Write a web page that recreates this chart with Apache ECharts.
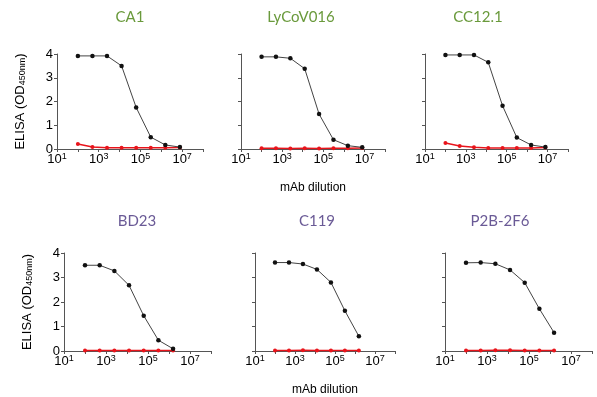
<!DOCTYPE html>
<html><head><meta charset="utf-8">
<script src="https://cdn.jsdelivr.net/npm/echarts@6/dist/echarts.min.js"></script>
<style>html,body{margin:0;padding:0;background:#fff}#c{width:597px;height:397px}</style>
</head><body><div id="c"></div>
<script>
// ---- data ----
var dilTop = [100, 500, 2500, 12500, 62500, 312500, 1562500, 7812500];
var dilBot = [100, 500, 2500, 12500, 62500, 312500, 1562500];
var titles = ['CA1', 'LyCoV016', 'CC12.1', 'BD23', 'C119', 'P2B-2F6'];
var blackCA1 = [3.92, 3.92, 3.92, 3.5, 1.75, 0.5, 0.17, 0.08];
var redCA1 = [0.21, 0.08, 0.05, 0.05, 0.05, 0.05, 0.05, 0.06];
var blackLyCoV016 = [3.88, 3.88, 3.82, 3.38, 1.47, 0.39, 0.14, 0.07];
var redLyCoV016 = [0.03, 0.03, 0.02, 0.03, 0.02, 0.03, 0.03, 0.04];
var blackCC121 = [3.96, 3.96, 3.96, 3.65, 1.82, 0.48, 0.17, 0.08];
var redCC121 = [0.25, 0.13, 0.07, 0.04, 0.04, 0.04, 0.04, 0.06];
var blackBD23 = [3.5, 3.5, 3.27, 2.68, 1.44, 0.44, 0.09];
var redBD23 = [0.02, 0.02, 0.02, 0.02, 0.02, 0.02, 0.02];
var blackC119 = [3.61, 3.61, 3.55, 3.33, 2.8, 1.64, 0.6];
var redC119 = [0.02, 0.02, 0.03, 0.02, 0.02, 0.02, 0.02];
var blackP2B = [3.6, 3.61, 3.56, 3.31, 2.79, 1.72, 0.75];
var redP2B = [0.02, 0.02, 0.03, 0.03, 0.02, 0.02, 0.02];
var yTicks = [0, 1, 2, 3, 4];

var panels = [
  {x: dilTop, b: blackCA1, r: redCA1},
  {x: dilTop, b: blackLyCoV016, r: redLyCoV016},
  {x: dilTop, b: blackCC121, r: redCC121},
  {x: dilBot, b: blackBD23, r: redBD23},
  {x: dilBot, b: blackC119, r: redC119},
  {x: dilBot, b: blackP2B, r: redP2B}
];
// layout
var grids = [
  {left: 57, top: 54, width: 146, height: 95},
  {left: 241, top: 54, width: 144, height: 95},
  {left: 425, top: 54, width: 143, height: 95},
  {left: 64, top: 253, width: 147, height: 98},
  {left: 255, top: 253, width: 140, height: 98},
  {left: 445, top: 253, width: 147, height: 98}
];
var titlePos = [[130, 17, '#6a9a3c'], [301, 17, '#6a9a3c'], [478, 17, '#6a9a3c'],
                [137, 221, '#6a5a96'], [317, 221, '#6a5a96'], [500, 221, '#6a5a96']];

var font = '"Liberation Sans", Arial, sans-serif';
var ink = '#000';
var xAxes = [], yAxes = [], series = [], graphics = [];
grids.forEach(function (g, i) {
  xAxes.push({
    type: 'log', logBase: 10, min: 10, max: 1e8, gridIndex: i, splitNumber: 7,
    axisLine: {lineStyle: {color: '#555', width: 1}},
    axisTick: {show: true, length: 3, lineStyle: {color: '#555'}},
    splitLine: {show: false},
    minorTick: {show: false},
    axisLabel: {
      margin: 3, color: ink, fontFamily: font, fontSize: 13,
      formatter: function (v) {
        var e = Math.round(Math.log(v) / Math.LN10);
        if (e % 2 === 0) return '';
        return '{b|10}{s|' + e + '}';
      },
      rich: {
        b: {fontSize: 13, fontFamily: font, color: ink, lineHeight: 15},
        s: {fontSize: 9, fontFamily: font, color: ink, lineHeight: 9, verticalAlign: 'top'}
      }
    },
    name: (i === 1 || i === 4) ? 'mAb dilution' : '',
    nameLocation: 'middle', nameGap: 33,
    nameTextStyle: {fontFamily: font, fontSize: 12, color: ink}
  });
  var showY = (i === 0 || i === 3);
  yAxes.push({
    type: 'value', min: 0, max: 4, interval: 1, gridIndex: i,
    axisLine: {show: true, lineStyle: {color: '#555', width: 1}},
    axisTick: {show: true, length: 3, lineStyle: {color: '#555'}},
    splitLine: {show: false},
    axisLabel: {show: showY, margin: 4, color: ink, fontFamily: font, fontSize: 13},
    name: showY ? 'ELISA (OD{s|450nm})' : '',
    nameLocation: 'middle', nameGap: 30, nameRotate: 90,
    nameTextStyle: {fontFamily: font, fontSize: 13, color: ink,
      rich: {s: {fontSize: 9, fontFamily: font, color: ink, verticalAlign: 'bottom', lineHeight: 9}}}
  });
  var p = panels[i];
  series.push({
    type: 'line', xAxisIndex: i, yAxisIndex: i,
    data: p.x.map(function (d, k) { return [d, p.r[k]]; }),
    symbol: 'circle', symbolSize: 4, color: '#e8141b',
    lineStyle: {color: '#e8141b', width: 1.5}, itemStyle: {color: '#e8141b'},
    animation: false, z: 2
  });
  series.push({
    type: 'line', xAxisIndex: i, yAxisIndex: i,
    data: p.x.map(function (d, k) { return [d, p.b[k]]; }),
    symbol: 'circle', symbolSize: 4.5, color: '#111',
    lineStyle: {color: '#444', width: 1}, itemStyle: {color: '#111'},
    animation: false, z: 3
  });
  graphics.push({
    type: 'text', x: titlePos[i][0], y: titlePos[i][1],
    style: {text: titles[i], fill: titlePos[i][2], font: '15px Lato, "Open Sans", sans-serif',
      textAlign: 'center', textVerticalAlign: 'middle'}
  });
});

var chart = echarts.init(document.getElementById('c'), null, {renderer: 'canvas'});
chart.setOption({
  animation: false,
  backgroundColor: '#fff',
  grid: grids,
  xAxis: xAxes,
  yAxis: yAxes,
  series: series,
  graphic: graphics
});
</script></body></html>
